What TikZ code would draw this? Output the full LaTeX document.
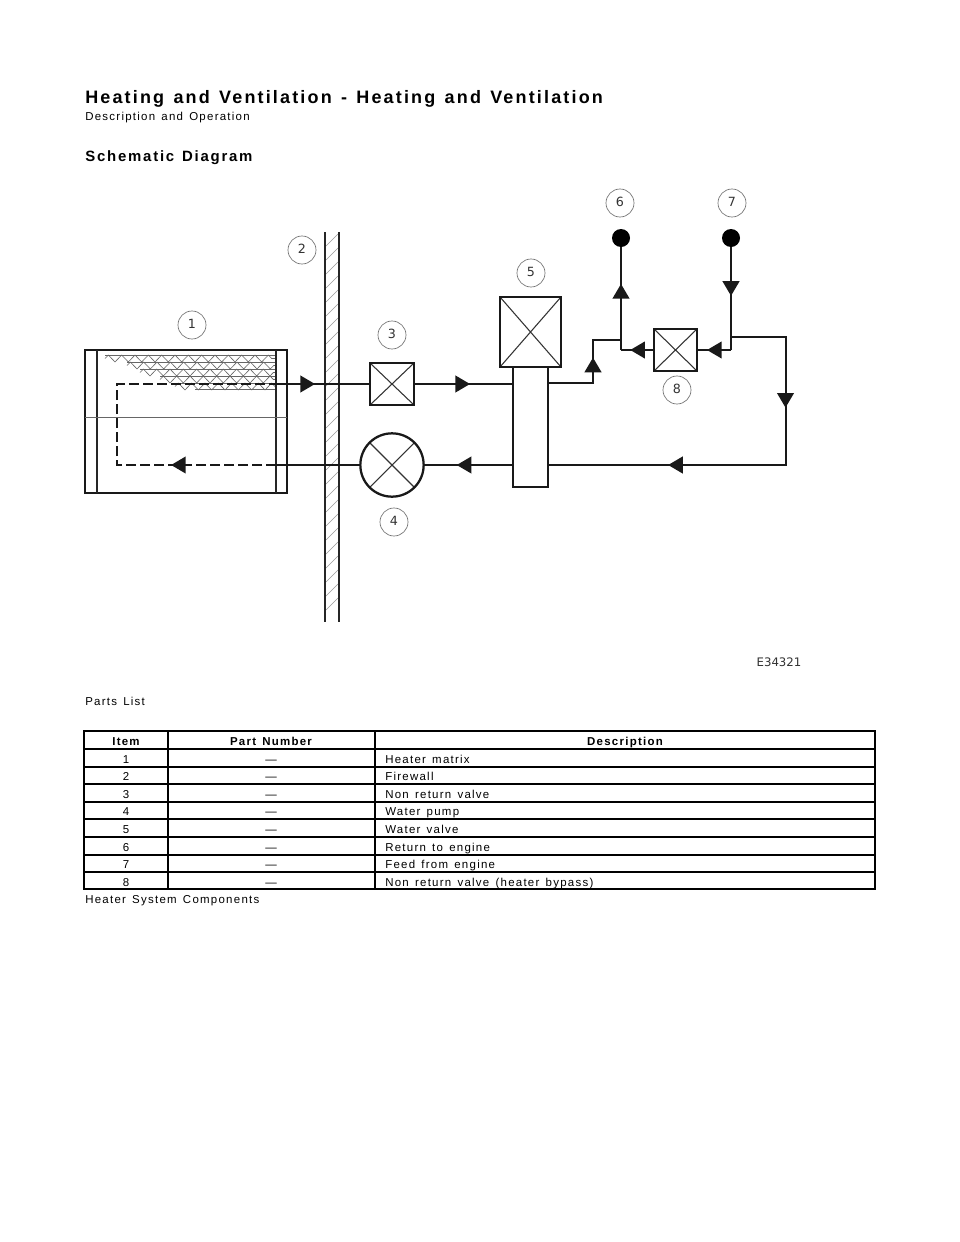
\documentclass[tikz,border=0pt]{standalone}
\usepackage{fontspec}
\setmainfont{Liberation Sans}
\newfontfamily\spaced[LetterSpace=11,WordSpace=1.4]{Liberation Sans}
\newfontfamily\headfont[LetterSpace=12,WordSpace=1.3]{Liberation Sans}
\newfontfamily\dejavu{DejaVu Sans}
\usetikzlibrary{arrows.meta,positioning,decorations.markings,decorations.pathmorphing}

\begin{document}
\begin{tikzpicture}[x=0.75pt,y=-0.75pt,
    pipe/.style={draw=black!90,line width=1.5pt},
    flow/.style={postaction={decorate,decoration={markings,
        mark=at position #1 with {\arrow{Triangle[length=11pt,width=12.5pt]}}}}},
    valve node/.style={rectangle,draw=black!90,line width=1.7pt,inner sep=0pt,outer sep=0pt,fill=white,
        path picture={\draw[line width=0.8pt,black!80]
            (path picture bounding box.north west) -- (path picture bounding box.south east)
            (path picture bounding box.north east) -- (path picture bounding box.south west);}},
    tap node/.style={circle,fill=black,inner sep=0pt,minimum size=13.5pt},
    part node/.style={circle,draw=black!55,line width=0.5pt,inner sep=0pt,minimum size=21pt,text depth=1.5pt,
        font=\dejavu\fontsize{9.5pt}{10pt}\selectfont,text=black!80},
    head/.style={anchor=base west,inner sep=0pt,font=\headfont\bfseries\fontsize{13.5pt}{14pt}\selectfont},
    body/.style={anchor=base west,inner sep=0pt,font=\spaced\fontsize{8.6pt}{10pt}\selectfont},
    cell/.style={anchor=base,inner sep=0pt,font=\spaced\fontsize{8.6pt}{10pt}\selectfont},
    fin/.style={draw=black!60,line width=0.45pt}]

  \useasboundingbox (0,0) rectangle (960,1242);
  \fill[white] (0,0) rectangle (960,1242);

  % page headings
  \node[head] (title) at (85,103) {Heating and Ventilation - Heating and Ventilation};
  \node[body] (subtitle) at (85,120) {Description and Operation};
  \node[head,font=\headfont\bfseries\fontsize{11.2pt}{12pt}\selectfont] (section) at (85,161) {Schematic Diagram};
  \node[body] (parts) at (85,705) {Parts List};
  \node[body] (caption) at (85,903) {Heater System Components};
  \node[anchor=base,inner sep=0pt,font=\dejavu\fontsize{8.8pt}{10pt}\selectfont,text=black!80] (code) at (779,666) {E34321};

  % heater matrix
  \foreach \ya/\xs in {355/105,362/127,369/140,376/160,383/175}
    \draw[fin,decorate,decoration={zigzag,segment length=10pt,amplitude=2.6pt}] (\xs,\ya+3.5) -- (276,\ya+3.5);
  \foreach \ya/\xs in {355/105,362/127,369/140,376/160,383/175,389/195}
    \draw[fin] (\xs,\ya) -- (276,\ya);
  \node[draw=black!90,line width=1.7pt,minimum width=151.5pt,minimum height=107.25pt,inner sep=0pt,outer sep=0pt] (heater) at (186,421.5) {};
  \draw[line width=1.1pt,black!85] (97,350) -- (97,493) (276,350) -- (276,493);
  \draw[line width=0.5pt,black!60] (85,417) -- (287,417);

  % firewall
  \foreach \y in {246,260,...,622}
    \draw[black!40,line width=0.5pt] (326,\y) -- (338,\y-12);
  \draw[line width=1.5pt,black!85] (325,232) -- (325,622) (339,232) -- (339,622);

  % components
  \node[valve node,minimum width=33pt,minimum height=31.5pt] (valve3) at (392,384) {};
  \node[valve node,minimum width=47.5pt,minimum height=47.5pt,circle] (pump) at (392,465) {};
  \node[rectangle,draw=black!90,line width=1.7pt,fill=white,inner sep=0pt,outer sep=0pt,minimum width=26.25pt,minimum height=90pt] (stem) at (530.5,427) {};
  \node[valve node,minimum width=45.75pt,minimum height=52.5pt,above=0pt of stem] (valve5) {};
  \node[valve node,minimum width=32.25pt,minimum height=31.5pt] (valve8) at (675.5,350) {};
  \node[tap node] (tap6) at (621,238) {};
  \node[tap node] (tap7) at (731,238) {};

  \coordinate (inlet) at (276,384);
  \coordinate (outlet) at (276,465);
  \coordinate (corner1) at (117,465);
  \coordinate (corner2) at (117,384);
  \coordinate (rise) at (593,383);
  \coordinate (rise top) at (593,340);
  \coordinate (junction6) at (621,340);
  \coordinate (tee6) at (621,350);
  \coordinate (tee7) at (731,350);
  \coordinate (feed) at (731,337);
  \coordinate (drop) at (785.5,337);
  \coordinate (drop end) at (785.5,465);

  % pipework
  \draw[pipe,flow=.415] (inlet) -- (valve3.west);
  \draw[pipe,flow=.566] (valve3.east) -- (valve3.east -| stem.west);
  \draw[pipe] (pump.west) -- (outlet);
  \draw[pipe,flow=.63] (pump.east -| stem.west) -- (pump.east);
  \draw[pipe,dash pattern=on 7.5pt off 3pt,flow=.263] (outlet) -- (corner1) -- (corner2) -- (inlet);
  \draw[pipe,flow=.607] (rise -| stem.east) -- (rise) -- (rise top) -- (junction6);
  \draw[pipe,flow=.72] (valve8.west) -- (tee6);
  \draw[pipe,flow=.643] (tee6) -- (tap6);
  \draw[pipe,flow=.473] (tap7) -- (tee7);
  \draw[pipe,flow=.706] (tee7) -- (valve8.east);
  \draw[pipe,flow=.298,flow=.714] (feed) -- (drop) -- (drop end) -- (drop end -| stem.east);

  % part numbers
  \node[part node] (part1) at (192,325) {1};
  \node[part node] (part2) at (302,250) {2};
  \node[part node] (part3) at (392,335) {3};
  \node[part node] (part4) at (394,522) {4};
  \node[part node] (part5) at (531,273) {5};
  \node[part node] (part6) at (620,203) {6};
  \node[part node] (part7) at (732,203) {7};
  \node[part node] (part8) at (677,390) {8};

  % parts table
  \node[cell,font=\spaced\bfseries\fontsize{8.6pt}{10pt}\selectfont] (item0) at (126,745) {Item};
  \node[cell,font=\spaced\bfseries\fontsize{8.6pt}{10pt}\selectfont] (number0) at (271,745) {Part Number};
  \node[cell,font=\spaced\bfseries\fontsize{8.6pt}{10pt}\selectfont] (text0) at (625,745) {Description};
  \foreach \n/\y/\desc in {1/763/Heater matrix,2/780.5/Firewall,3/798/Non return valve,4/815.5/Water pump,
      5/833/Water valve,6/851/Return to engine,7/868.5/Feed from engine,8/886/Non return valve (heater bypass)}{
    \node[cell] (item\n) at (126,\y) {\n};
    \node[cell] (number\n) at (271,\y) {—};
    \node[body] (text\n) at (385,\y) {\desc};
  }
  \foreach \y in {731,749,767,784,802,819,837,855,872,889}
    \draw[line width=1.6pt] (84,\y) -- (875,\y);
  \foreach \x in {84,168,375,875}
    \draw[line width=1.6pt] (\x,730) -- (\x,890);
\end{tikzpicture}
\end{document}
